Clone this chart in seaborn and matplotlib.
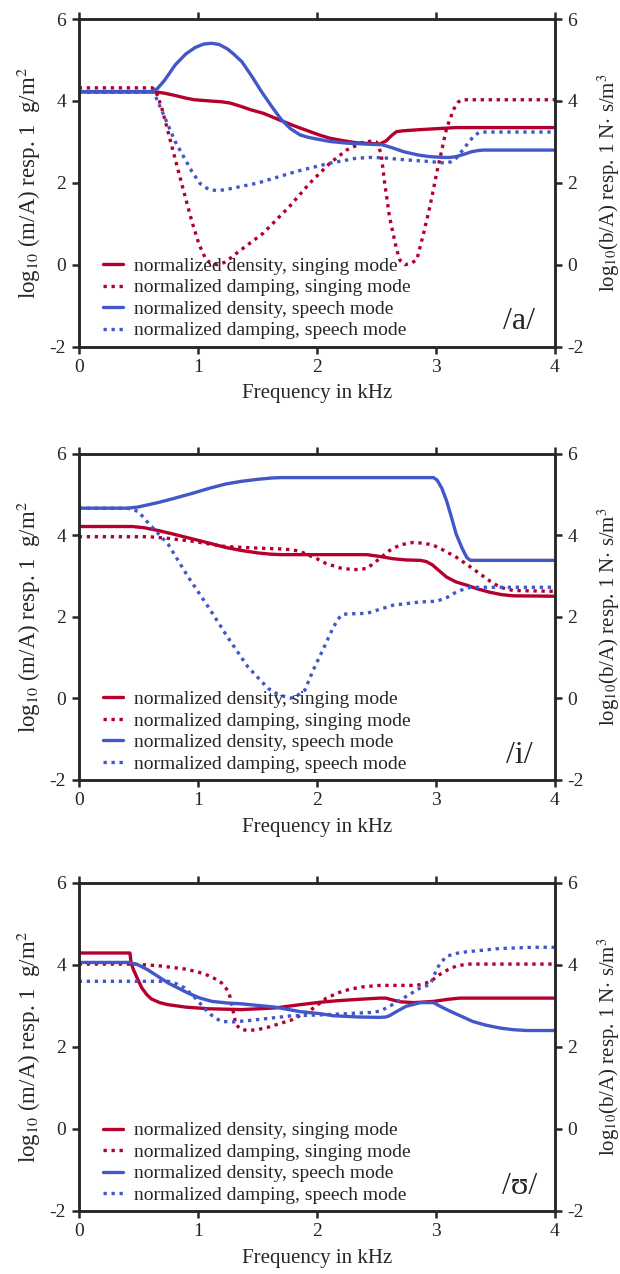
import matplotlib
matplotlib.use("Agg")
import matplotlib.pyplot as plt
import seaborn as sns

# ---------------- data ----------------
# Panel /a/
a_dens_sing_x = [0, 0.65, 0.72, 0.80, 0.90, 0.97, 1.10, 1.20, 1.27, 1.36, 1.45, 1.55, 1.70, 1.83, 2.03, 2.11, 2.22, 2.33,
                 2.45, 2.53, 2.58, 2.63, 2.67, 2.72, 2.87, 3.17, 4.0]
a_dens_sing_y = [4.22, 4.22, 4.19, 4.14, 4.07, 4.03, 4.00, 3.98, 3.95, 3.87, 3.78, 3.70, 3.52, 3.37, 3.16, 3.09, 3.03, 2.98,
                 2.96, 2.95, 3.02, 3.16, 3.25, 3.27, 3.30, 3.35, 3.35]
a_damp_sing_x = [0, 0.62, 0.66, 0.70, 0.75, 0.86, 0.95, 1.01, 1.06, 1.10, 1.16, 1.22, 1.28, 1.33, 1.55, 1.77, 1.94, 2.11,
                 2.25, 2.39, 2.46, 2.50, 2.54, 2.57, 2.61, 2.67, 2.70, 2.74, 2.79, 2.84, 2.90, 2.95, 3.01, 3.09, 3.15,
                 3.19, 3.22, 4.0]
a_damp_sing_y = [4.32, 4.32, 4.15, 3.80, 3.25, 2.03, 1.06, 0.50, 0.18, 0.05, 0.0, 0.05, 0.17, 0.29, 0.77, 1.42, 1.99, 2.48,
                 2.80, 2.99, 3.02, 3.00, 2.72, 1.99, 1.18, 0.37, 0.10, 0.0, 0.03, 0.12, 0.80, 1.42, 2.28, 3.33, 3.80,
                 3.98, 4.03, 4.03]
a_dens_speech_x = [0, 0.61, 0.66, 0.72, 0.81, 0.90, 0.98, 1.05, 1.115, 1.18, 1.25, 1.30, 1.37, 1.45, 1.535, 1.62, 1.70,
                   1.78, 1.86, 1.93, 2.0, 2.11, 2.25, 2.39, 2.55, 2.63, 2.73, 2.85, 2.95, 3.06, 3.12, 3.17, 3.25, 3.30,
                   3.36, 3.40, 4.0]
a_dens_speech_y = [4.23, 4.23, 4.30, 4.50, 4.88, 5.15, 5.31, 5.39, 5.41, 5.38, 5.27, 5.15, 4.96, 4.62, 4.23, 3.87, 3.55,
                   3.32, 3.17, 3.11, 3.07, 3.01, 2.97, 2.95, 2.93, 2.86, 2.76, 2.68, 2.64, 2.62, 2.62, 2.64, 2.71, 2.76,
                   2.79, 2.80, 2.80]
a_damp_speech_x = [0, 0.63, 0.70, 0.81, 0.95, 1.02, 1.09, 1.16, 1.23, 1.51, 1.83, 2.11, 2.33, 2.45, 2.56, 2.75, 2.95,
                   3.09, 3.13, 3.17, 3.22, 3.26, 3.32, 3.37, 4.0]
a_damp_speech_y = [4.21, 4.21, 3.75, 3.01, 2.28, 1.98, 1.84, 1.81, 1.83, 2.00, 2.28, 2.48, 2.60, 2.62, 2.61, 2.56, 2.52,
                   2.48, 2.52, 2.60, 2.78, 2.93, 3.15, 3.24, 3.24]

# Panel /i/
i_dens_sing_x = [0, 0.45, 0.55, 0.67, 0.80, 0.95, 1.10, 1.23, 1.37, 1.51, 1.62, 1.70, 2.42, 2.52, 2.64, 2.75, 2.87, 2.92,
                 2.97, 3.03, 3.09, 3.17, 3.26, 3.35, 3.45, 3.55, 3.65, 4.0]
i_dens_sing_y = [4.21, 4.21, 4.18, 4.11, 4.02, 3.91, 3.80, 3.70, 3.62, 3.56, 3.53, 3.52, 3.52, 3.48, 3.42, 3.39, 3.38, 3.35,
                 3.27, 3.12, 2.97, 2.85, 2.77, 2.68, 2.60, 2.54, 2.51, 2.50]
i_damp_sing_x = [0, 0.59, 0.75, 0.95, 1.10, 1.23, 1.51, 1.70, 1.79, 1.86, 1.92, 2.00, 2.08, 2.20, 2.31, 2.42, 2.50, 2.61,
                 2.70, 2.81, 2.90, 2.98, 3.07, 3.17, 3.27, 3.37, 3.46, 3.54, 3.65, 4.0]
i_damp_sing_y = [3.96, 3.96, 3.92, 3.85, 3.78, 3.72, 3.68, 3.66, 3.64, 3.60, 3.52, 3.42, 3.30, 3.19, 3.15, 3.18, 3.36, 3.62,
                 3.76, 3.82, 3.80, 3.75, 3.62, 3.46, 3.26, 3.05, 2.86, 2.72, 2.64, 2.62]
i_dens_speech_x = [0, 0.41, 0.50, 0.67, 0.80, 0.95, 1.10, 1.23, 1.37, 1.51, 1.62, 1.70, 2.98, 3.01, 3.05, 3.09, 3.13,
                   3.17, 3.22, 3.26, 3.29, 4.0]
i_dens_speech_y = [4.66, 4.66, 4.69, 4.80, 4.90, 5.02, 5.15, 5.25, 5.32, 5.37, 5.40, 5.41, 5.41, 5.35, 5.15, 4.84, 4.45,
                   4.03, 3.68, 3.45, 3.38, 3.38]
i_damp_speech_x = [0, 0.41, 0.50, 0.58, 0.75, 0.92, 1.09, 1.25, 1.42, 1.59, 1.67, 1.73, 1.78, 1.83, 1.90, 1.97, 2.05,
                   2.14, 2.19, 2.22, 2.30, 2.42, 2.64, 2.87, 2.95, 3.01, 3.10, 3.17, 3.24, 3.29, 4.0]
i_damp_speech_y = [4.66, 4.66, 4.58, 4.31, 3.78, 2.97, 2.23, 1.50, 0.77, 0.24, 0.10, 0.04, 0.0, 0.05, 0.20, 0.69, 1.18,
                   1.75, 1.98, 2.06, 2.07, 2.08, 2.28, 2.36, 2.37, 2.38, 2.48, 2.60, 2.68, 2.72, 2.72]

# Panel /ʊ/
u_dens_sing_x = [0, 0.43, 0.44, 0.46, 0.50, 0.53, 0.57, 0.61, 0.68, 0.75, 0.90, 1.09, 1.37, 1.65, 1.86, 2.03, 2.19, 2.35,
                 2.53, 2.58, 2.63, 2.70, 2.82, 2.98, 3.10, 3.20, 4.0]
u_dens_sing_y = [4.29, 4.29, 4.05, 3.88, 3.62, 3.44, 3.28, 3.17, 3.08, 3.03, 2.97, 2.93, 2.91, 2.95, 3.03, 3.09, 3.13, 3.16,
                 3.19, 3.19, 3.15, 3.10, 3.08, 3.11, 3.16, 3.19, 3.19]
u_damp_sing_x = [0, 0.45, 0.67, 0.89, 1.00, 1.09, 1.16, 1.20, 1.24, 1.27, 1.30, 1.32, 1.36, 1.42, 1.50, 1.59, 1.79, 1.95,
                 2.08, 2.18, 2.28, 2.40, 2.53, 2.84, 2.92, 2.98, 3.03, 3.10, 3.17, 3.26, 4.0]
u_damp_sing_y = [4.02, 4.02, 3.98, 3.90, 3.83, 3.74, 3.64, 3.56, 3.42, 3.23, 2.83, 2.55, 2.43, 2.40, 2.42, 2.48, 2.66, 2.90,
                 3.19, 3.32, 3.41, 3.47, 3.50, 3.50, 3.56, 3.65, 3.76, 3.88, 3.97, 4.02, 4.02]
u_dens_speech_x = [0, 0.43, 0.50, 0.58, 0.75, 0.92, 1.02, 1.12, 1.25, 1.37, 1.65, 1.86, 2.03, 2.14, 2.35, 2.53, 2.58,
                   2.61, 2.68, 2.75, 2.87, 2.98, 3.05, 3.12, 3.22, 3.31, 3.42, 3.54, 3.65, 3.76, 4.0]
u_dens_speech_y = [4.06, 4.06, 4.00, 3.88, 3.56, 3.31, 3.19, 3.11, 3.07, 3.05, 2.97, 2.86, 2.81, 2.76, 2.73, 2.72, 2.73,
                   2.76, 2.88, 2.99, 3.08, 3.08, 2.97, 2.87, 2.74, 2.62, 2.53, 2.46, 2.42, 2.40, 2.40]
u_damp_speech_x = [0, 0.75, 0.82, 0.89, 0.98, 1.09, 1.15, 1.20, 1.30, 1.42, 1.79, 2.03, 2.45, 2.53, 2.61, 2.75, 2.87,
                   2.95, 2.98, 3.01, 3.05, 3.09, 3.17, 3.26, 3.54, 3.82, 4.0]
u_damp_speech_y = [3.60, 3.60, 3.54, 3.44, 3.19, 2.83, 2.70, 2.62, 2.61, 2.64, 2.76, 2.78, 2.84, 2.87, 2.99, 3.23, 3.44,
                   3.52, 3.70, 3.92, 4.08, 4.21, 4.28, 4.32, 4.40, 4.43, 4.43]

series_labels = ["normalized density, singing mode", "normalized damping, singing mode",
                 "normalized density, speech mode", "normalized damping, speech mode"]
panel_names = ["/a/", "/i/", "/\u028a/"]
x_ticks = [0, 1, 2, 3, 4]
y_ticks = [-2, 0, 2, 4, 6]
x_label = "Frequency in kHz"
y_label_left = r"log$_{10}$ (m/A) resp. 1  g/m$^2$"
y_label_right = r"log$_{10}$(b/A) resp. 1 N$\cdot$ s/m$^3$"

panels = [
    [(a_dens_sing_x, a_dens_sing_y), (a_damp_sing_x, a_damp_sing_y),
     (a_dens_speech_x, a_dens_speech_y), (a_damp_speech_x, a_damp_speech_y)],
    [(i_dens_sing_x, i_dens_sing_y), (i_damp_sing_x, i_damp_sing_y),
     (i_dens_speech_x, i_dens_speech_y), (i_damp_speech_x, i_damp_speech_y)],
    [(u_dens_sing_x, u_dens_sing_y), (u_damp_sing_x, u_damp_sing_y),
     (u_dens_speech_x, u_dens_speech_y), (u_damp_speech_x, u_damp_speech_y)],
]

# ---------------- style ----------------
sns.set_style("ticks")
plt.rcParams['font.family'] = ['Liberation Serif', 'DejaVu Serif']
plt.rcParams['mathtext.fontset'] = 'stix'
plt.rcParams['axes.unicode_minus'] = False

RED = "#B5002E"
BLUE = "#4257C8"
DOT = (0, (1, 1.4))
styles = [(RED, "-"), (RED, DOT), (BLUE, "-"), (BLUE, DOT)]

fig = plt.figure(figsize=(6.2, 12.74), dpi=100)
rects = [(0.127, 0.728, 0.768, 0.257),
         (0.127, 0.388, 0.768, 0.256),
         (0.127, 0.0495, 0.768, 0.2575)]

SPW = 1.8
for rect, data, name in zip(rects, panels, panel_names):
    ax = fig.add_axes(rect)
    for (xs, ys), (col, ls), lab in zip(data, styles, series_labels):
        sns.lineplot(x=xs, y=ys, ax=ax, color=col, linestyle=ls, lw=2.4,
                     label=lab, estimator=None, sort=False)
    ax.set_xlim(0, 4)
    ax.set_ylim(-2, 6)
    ax.set_xticks(x_ticks)
    ax.set_yticks(y_ticks)
    ax.set_xlabel(x_label, fontsize=15, labelpad=6)
    ax.set_ylabel(y_label_left, fontsize=16.5, labelpad=5)
    ax.tick_params(direction='out', length=5, width=SPW, top=True, labelsize=14, pad=4)
    for sp in ax.spines.values():
        sp.set_linewidth(SPW)
        sp.set_visible(True)
    ax.legend(loc='lower left', bbox_to_anchor=(0.035, -0.002), frameon=False,
              handlelength=1.0, handletextpad=0.6, labelspacing=0.2,
              borderaxespad=0, fontsize=14)
    ax.text(0.925, 0.075, name, transform=ax.transAxes, fontsize=23,
            ha='center', va='center')

    tw = ax.twinx()
    tw.set_ylim(-2, 6)
    tw.set_yticks(y_ticks)
    tw.tick_params(direction='out', length=5, width=SPW, labelsize=14, pad=4)
    tw.set_ylabel(y_label_right, fontsize=15)
    tw.yaxis.set_label_coords(1.086, 0.5)
    for sp in tw.spines.values():
        sp.set_linewidth(SPW)

fig.savefig("out.png", dpi=100)
